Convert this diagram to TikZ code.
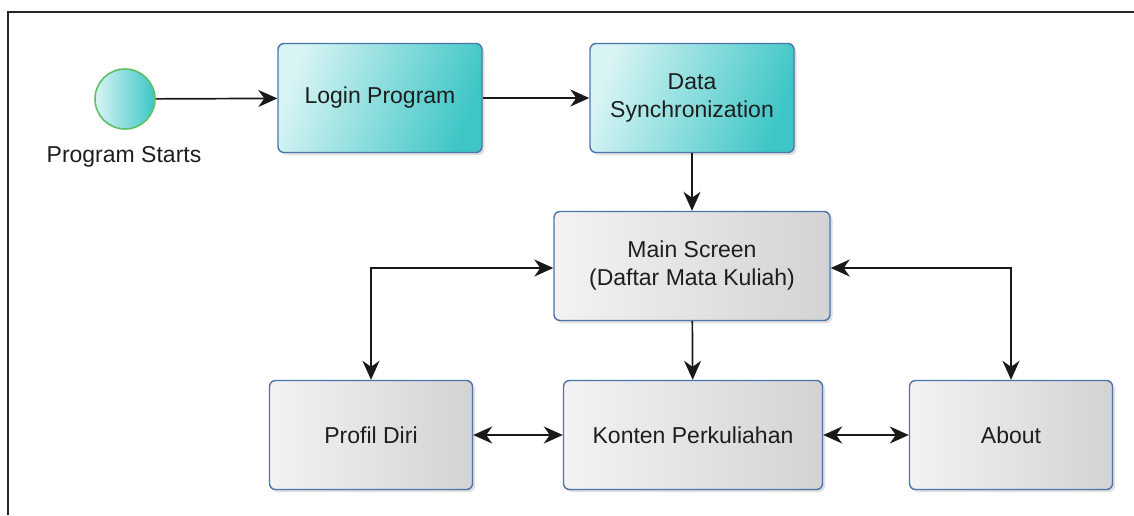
\documentclass[tikz,border=0pt]{standalone}
\usepackage{fontspec}
\setmainfont{Liberation Sans}
\usetikzlibrary{arrows.meta,shadows}
\definecolor{tealL}{HTML}{D8F4F4}
\definecolor{tealD}{HTML}{3EC6C6}
\definecolor{grayL}{HTML}{F3F3F3}
\definecolor{grayD}{HTML}{D3D3D3}
\definecolor{edge}{HTML}{4A74AC}
\definecolor{ring}{HTML}{5DBF66}
\definecolor{ink}{HTML}{1E1E1E}
\begin{document}
\begin{tikzpicture}[x=1pt,y=-1pt,
  >={Stealth[length=19pt,width=17pt,inset=6pt]},
  lbl/.style={font=\fontsize{23}{28}\selectfont, text=ink, align=center},
  box/.style={lbl, draw=edge, line width=1.4pt, rounded corners=6pt,
    inner sep=0pt, minimum height=109pt,
    drop shadow={opacity=0.25, shadow xshift=2.5pt, shadow yshift=-2.5pt}},
  active/.style={box, shading=axis, left color=tealL, right color=tealD, shading angle=70},
  screen/.style={box, left color=grayL, right color=grayD},
  flow/.style={line width=1.7pt, black!90, ->},
  both/.style={line width=1.7pt, black!90, <->}]
\useasboundingbox (0,0) rectangle (1134,515);
% outer frame
\draw[line width=2pt, black!85] (8,515) -- (8,12) -- (1134,12);

% start event
\node[circle, draw=ring, line width=1.6pt, inner sep=0pt, minimum size=60pt,
      left color=tealL, right color=tealD] (start) at (125,99) {};
\node[lbl] (startlbl) at (124,157) {Program Starts};

% activities
\node[active, minimum width=204pt] (login) at (380,98) {Login Program};
\node[active, minimum width=204pt] (sync) at (692,98) {Data\\Synchronization};
\node[screen, minimum width=276pt] (main) at (692,266) {Main Screen\\(Daftar Mata Kuliah)};
\node[screen, minimum width=203pt] (profil) at (371,435) {Profil Diri};
\node[screen, minimum width=259pt] (konten) at (693,435) {Konten Perkuliahan};
\node[screen, minimum width=203pt] (about) at (1011,435) {About};

% connectors
\draw[flow] (start) -- (login);
\draw[flow] (login) -- (sync);
\draw[flow] (sync) -- (main);
\draw[flow] (main) -- (konten);
\draw[both] ([yshift=-2pt]main.west) -| (profil.north);
\draw[both] ([yshift=-2pt]main.east) -| (about.north);
\draw[both] (profil) -- (konten);
\draw[both] (konten) -- (about);
\end{tikzpicture}
\end{document}
